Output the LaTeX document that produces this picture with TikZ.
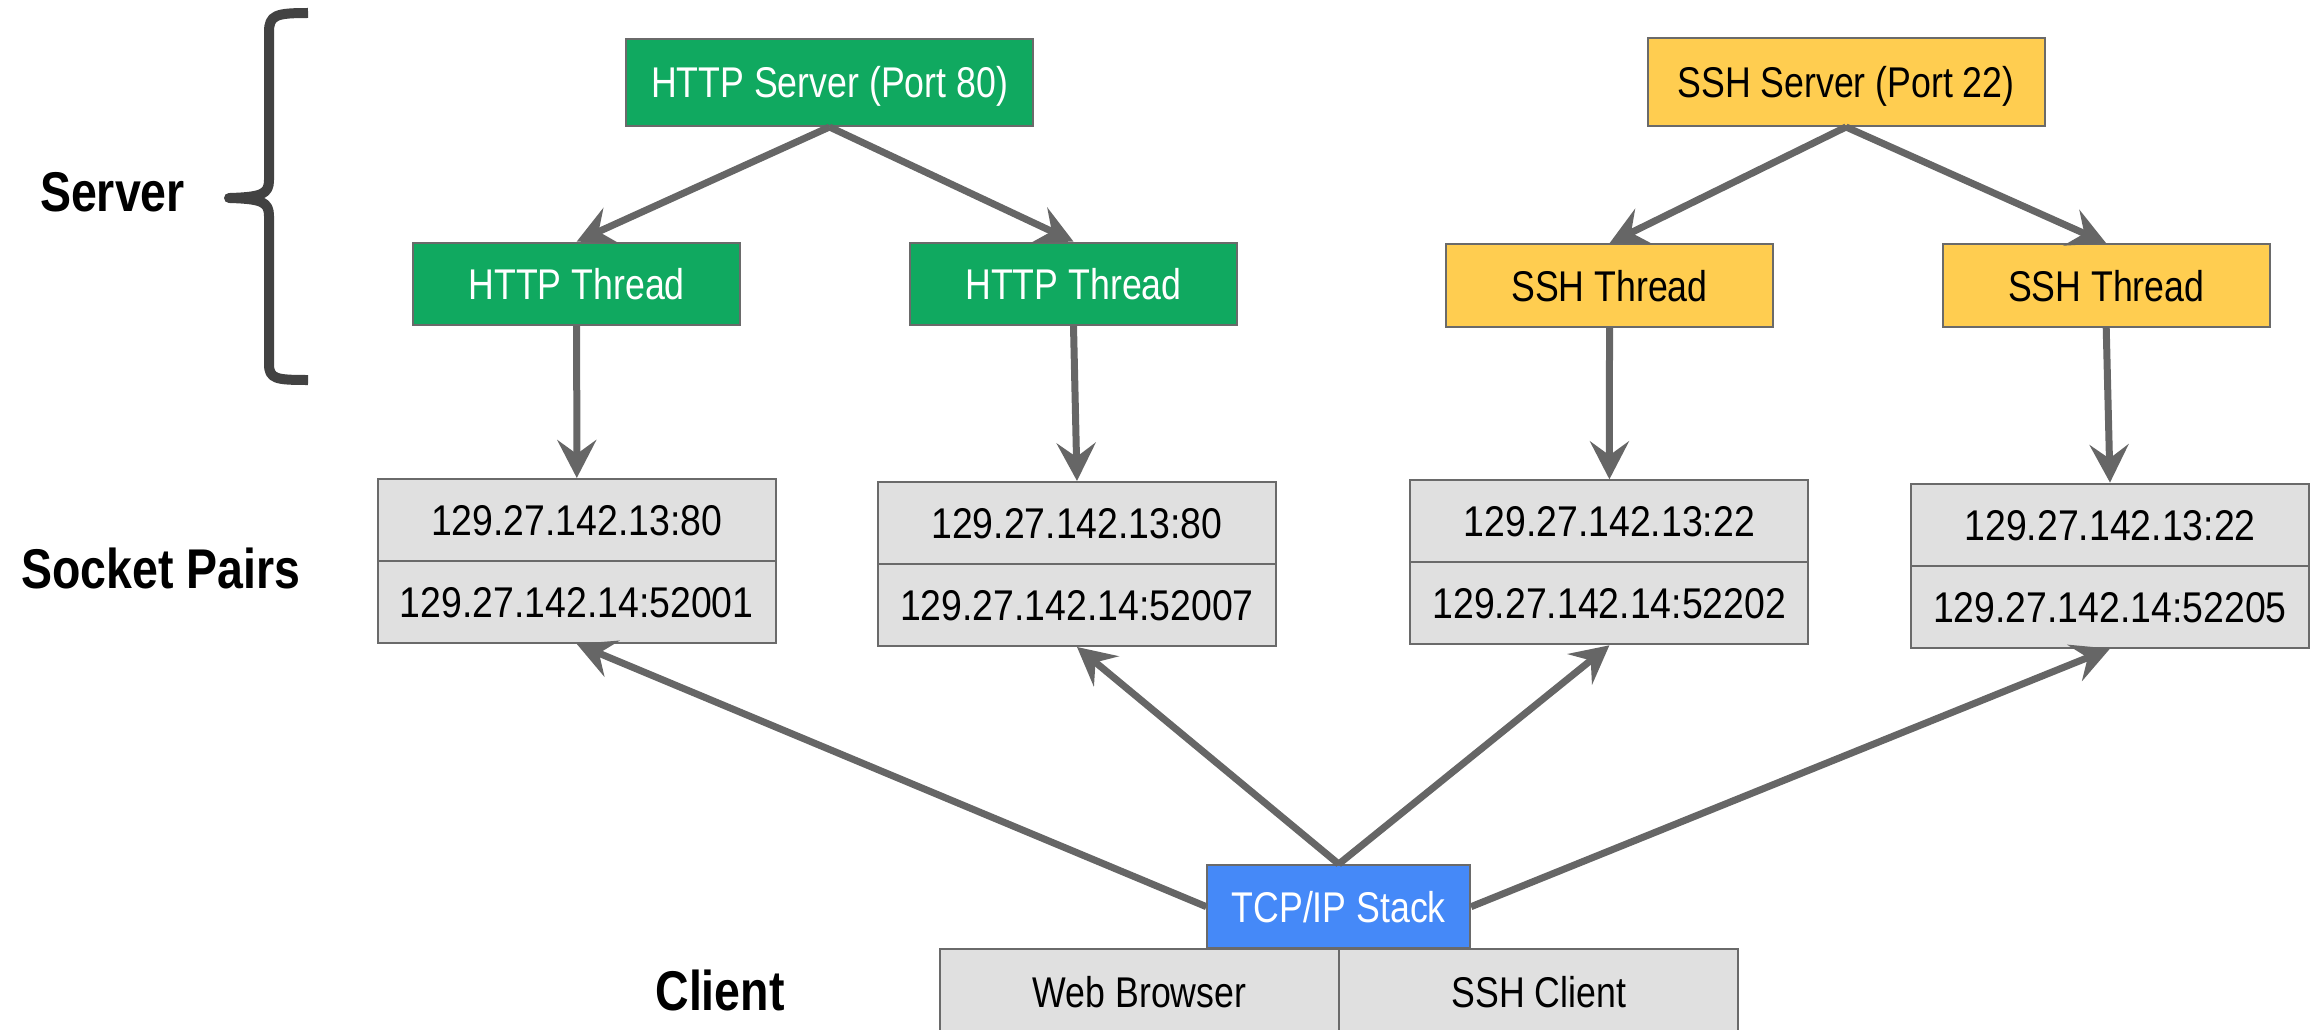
\documentclass[tikz,border=0pt]{standalone}
\usepackage{fontspec}
\setmainfont[FakeStretch=0.83]{Liberation Sans}
\newfontfamily\addrfont[FakeStretch=0.87]{Liberation Sans}
\usetikzlibrary{arrows.meta}
\definecolor{srvgreen}{HTML}{10A960}
\definecolor{srvyellow}{HTML}{FFCD50}
\definecolor{stackblue}{HTML}{4589F8}
\definecolor{cellgray}{HTML}{E0E0E0}
\definecolor{boxline}{HTML}{6A6A6A}
\definecolor{arrowgray}{HTML}{666666}
\definecolor{bracegray}{HTML}{424242}
\begin{document}
\begin{tikzpicture}[x=1pt,y=-1pt,
  box/.style={draw=boxline, line width=2pt, inner sep=0pt,
    font=\fontsize{43}{50}\selectfont, text height=31pt, text depth=0pt},
  greenbox/.style={box, fill=srvgreen, text=white},
  yellowbox/.style={box, fill=srvyellow, text=black},
  bluebox/.style={box, fill=stackblue, text=white},
  graybox/.style={box, fill=cellgray, text=black},
  threadbox/.style={minimum width=327pt, minimum height=82.5pt},
  cell/.style={graybox, minimum width=398pt, minimum height=82pt,
    font=\addrfont\fontsize{43}{50}\selectfont},
  rowlabel/.style={anchor=base, inner sep=0pt, font=\fontsize{56}{60}\selectfont\bfseries},
  conn/.style={draw=arrowgray, line width=7pt,
    -{Stealth[length=38pt, width=39pt, inset=14pt]}}]
\useasboundingbox (0,0) rectangle (2315,1030);

% row labels
\node[rowlabel] (lserver) at (112.5,211) {Server};
\node[rowlabel] (lsocket) at (161,588) {Socket Pairs};
\node[rowlabel] (lclient) at (720,1010) {Client};

% brace grouping the server rows
\draw[bracegray, line width=10pt, line join=round]
  (308,13) .. controls (276,13) and (269,15) .. (269,32)
  -- (269,180) .. controls (269,194) and (262,197) .. (230,198)
  .. controls (262,199) and (269,202) .. (269,216)
  -- (269,364) .. controls (269,379) and (276,380) .. (308,380);
\fill[bracegray] (229,198) circle (5pt);

% servers
\node[greenbox, minimum width=407pt, minimum height=87pt] (httpsrv) at (829.5,82.5) {HTTP Server (Port 80)};
\node[yellowbox, minimum width=397pt, minimum height=88pt] (sshsrv) at (1846,82) {SSH Server (Port 22)};

% threads
\node[greenbox, threadbox] (ht1) at (576.7,283.8) {HTTP Thread};
\node[greenbox, threadbox] (ht2) at (1073.5,283.8) {HTTP Thread};
\node[yellowbox, threadbox] (st1) at (1609.5,285.5) {SSH Thread};
\node[yellowbox, threadbox] (st2) at (2106.2,285.5) {SSH Thread};

% socket pairs: server end above, client end below
\node[cell] (p1a) at (576.8,520) {129.27.142.13:80};
\node[cell] (p1b) at (576.8,602) {129.27.142.14:52001};
\node[cell] (p2a) at (1077,523) {129.27.142.13:80};
\node[cell] (p2b) at (1077,605) {129.27.142.14:52007};
\node[cell] (p3a) at (1609.4,521.3) {129.27.142.13:22};
\node[cell] (p3b) at (1609.4,603.3) {129.27.142.14:52202};
\node[cell] (p4a) at (2110,524.6) {129.27.142.13:22};
\node[cell] (p4b) at (2110,606.6) {129.27.142.14:52205};

% client side
\node[graybox, minimum width=398.3pt, minimum height=86pt] (web) at (1139.5,992) {Web Browser};
\node[graybox, minimum width=398.7pt, minimum height=86pt] (sshc) at (1538.7,992) {SSH Client};
\node[bluebox, minimum width=262.7pt, minimum height=83.3pt] (tcp) at (1338.7,906.7) {TCP/IP Stack};

% servers spawn threads
\draw[conn] (httpsrv.south) -- (ht1.north);
\draw[conn] (httpsrv.south) -- (ht2.north);
\draw[conn] (sshsrv.south) -- (st1.north);
\draw[conn] (sshsrv.south) -- (st2.north);

% threads own socket pairs
\draw[conn] (ht1.south) -- (p1a.north);
\draw[conn] (ht2.south) -- (p2a.north);
\draw[conn] (st1.south) -- (p3a.north);
\draw[conn] (st2.south) -- (p4a.north);

% TCP/IP stack reaches every socket pair
\draw[conn] (tcp.west) -- (p1b.south);
\draw[conn] (tcp.north) -- (p2b.south);
\draw[conn] (tcp.north) -- (p3b.south);
\draw[conn] (tcp.east) -- (p4b.south);
\end{tikzpicture}
\end{document}
